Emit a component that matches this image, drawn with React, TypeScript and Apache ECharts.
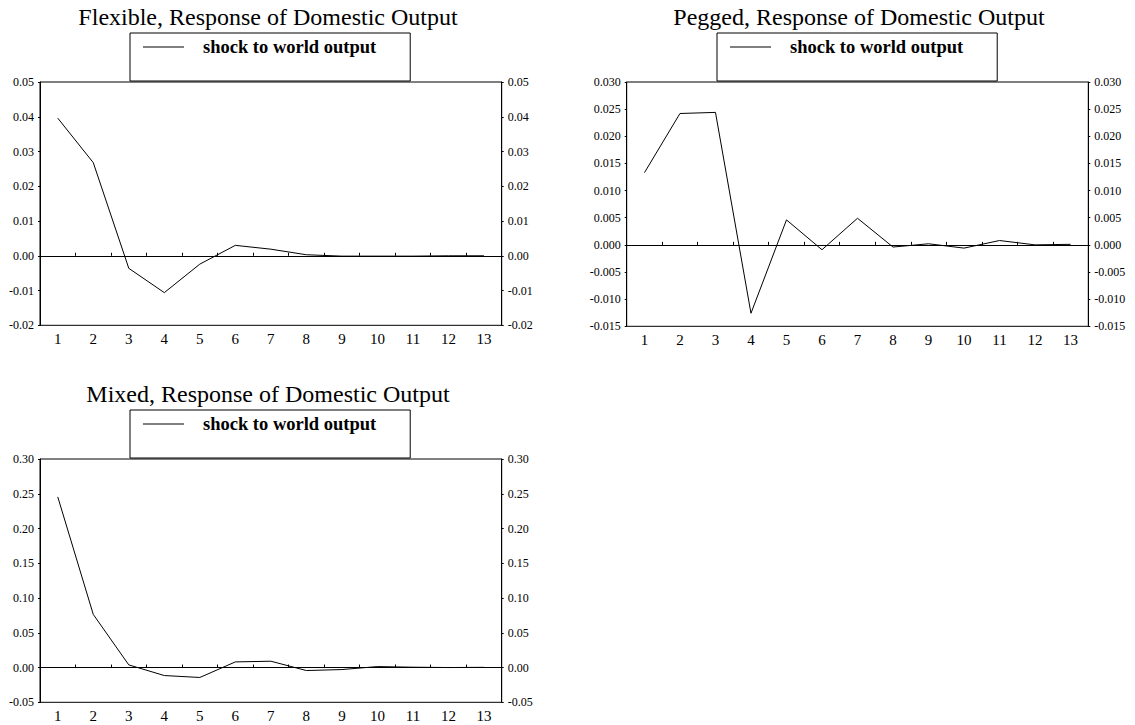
import React, { useEffect, useRef } from "react";
import * as echarts from "echarts";

// ---- data ----
const periods = ["1", "2", "3", "4", "5", "6", "7", "8", "9", "10", "11", "12", "13"];
const seriesName = "shock to world output";

const flexibleTitle = "Flexible, Response of Domestic Output";
const peggedTitle = "Pegged, Response of Domestic Output";
const mixedTitle = "Mixed, Response of Domestic Output";

const flexibleValues = [0.0396, 0.0268, -0.0036, -0.0106, -0.0024, 0.003, 0.0019, 0.0003, -0.0001, -0.0001, -0.0001, 0.0, 0.0];
const peggedValues = [0.0133, 0.0242, 0.0244, -0.0126, 0.0046, -0.0009, 0.0049, -0.0004, 0.0002, -0.0006, 0.0008, 0.0, 0.0001];
const mixedValues = [0.2455, 0.0764, 0.0038, -0.0115, -0.0143, 0.0081, 0.0091, -0.0043, -0.0029, 0.0014, 0.0005, 0.0, 0.0003];

// [min, max, interval, decimals]
const flexibleScale = [-0.02, 0.05, 0.01, 2];
const peggedScale = [-0.015, 0.03, 0.005, 3];
const mixedScale = [-0.05, 0.3, 0.05, 2];

const FONT = "'Liberation Serif', 'Times New Roman', Times, serif";

const panels = [
  { title: flexibleTitle, values: flexibleValues, scale: flexibleScale, grid: { left: 40, top: 82, width: 461.7, height: 243.3 }, legend: { left: 130, top: 33 }, titleX: 268, titleY: 17 },
  { title: peggedTitle, values: peggedValues, scale: peggedScale, grid: { left: 626.7, top: 82, width: 461.6, height: 244.3 }, legend: { left: 717, top: 33 }, titleX: 859, titleY: 17 },
  { title: mixedTitle, values: mixedValues, scale: mixedScale, grid: { left: 40, top: 459, width: 461.7, height: 243.3 }, legend: { left: 130, top: 410 }, titleX: 268, titleY: 394 },
];

function fmt(decimals: number) {
  return (v: number) => (Math.abs(v) < 1e-9 ? 0 : v).toFixed(decimals);
}

export default function App() {
  const ref = useRef<HTMLDivElement>(null);

  useEffect(() => {
    document.body.style.margin = "0";
    document.body.style.padding = "0";
    if (!ref.current) return;
    const chart = echarts.init(ref.current, null, { renderer: "svg" });

    const axisLineStyle = { color: "#000", width: 1 };
    const grids: any[] = [];
    const xAxes: any[] = [];
    const yAxes: any[] = [];
    const series: any[] = [];
    const legends: any[] = [];
    const graphics: any[] = [];

    panels.forEach((p, i) => {
      const [min, max, interval, decimals] = p.scale;
      grids.push({
        ...p.grid,
        show: true,
        borderColor: "#000",
        borderWidth: 1,
        backgroundColor: "transparent",
        containLabel: false,
      });
      xAxes.push({
        type: "category",
        gridIndex: i,
        data: periods,
        boundaryGap: true,
        axisLine: { show: true, lineStyle: axisLineStyle },
        axisTick: { show: true, inside: true, length: 3, lineStyle: axisLineStyle },
        axisLabel: { color: "#000", fontFamily: FONT, fontSize: 15, margin: 6, interval: 0 },
        splitLine: { show: false },
      });
      ["left", "right"].forEach((pos) => {
        yAxes.push({
          type: "value",
          gridIndex: i,
          position: pos,
          min,
          max,
          interval,
          axisLine: { show: true, lineStyle: axisLineStyle },
          axisTick: { show: true, inside: false, length: 2, lineStyle: axisLineStyle },
          axisLabel: { color: "#000", fontFamily: FONT, fontSize: 12, margin: 6, formatter: fmt(decimals) },
          splitLine: { show: false },
        });
      });
      series.push({
        type: "line",
        name: seriesName,
        xAxisIndex: i,
        yAxisIndex: i * 2,
        data: p.values,
        symbol: "none",
        showSymbol: false,
        lineStyle: { color: "#000", width: 1 },
        itemStyle: { color: "#000" },
        emphasis: { disabled: true },
        markLine: {
          silent: true,
          symbol: ["none", "none"],
          label: { show: false },
          lineStyle: { color: "#000", width: 1, type: "solid" },
          emphasis: { disabled: true },
          data: [{ yAxis: 0 }],
        },
      });
      legends.push({
        left: p.legend.left,
        top: p.legend.top,
        data: [{ name: seriesName, icon: "rect" }],
        orient: "horizontal",
        selectedMode: false,
        borderColor: "#000",
        borderWidth: 1,
        backgroundColor: "#fff",
        padding: [4, 34, 24, 13],
        itemWidth: 41,
        itemHeight: 1,
        itemStyle: { color: "#000", borderWidth: 0 },
        textStyle: {
          fontFamily: FONT,
          fontWeight: "bold",
          fontSize: 18.5,
          color: "#000",
          lineHeight: 20,
          padding: [0, 0, 0, 14],
        },
      });
      graphics.push({
        type: "text",
        x: p.titleX,
        y: p.titleY,
        silent: true,
        style: {
          text: p.title,
          font: `24px ${FONT}`,
          fill: "#000",
          align: "center",
          verticalAlign: "middle",
        },
      });
    });

    chart.setOption({
      animation: false,
      backgroundColor: "#fff",
      grid: grids,
      xAxis: xAxes,
      yAxis: yAxes,
      series,
      legend: legends,
      graphic: graphics,
      tooltip: { show: false },
    });

    return () => chart.dispose();
  }, []);

  return <div ref={ref} style={{ width: 1135, height: 725, background: "#fff" }} />;
}
